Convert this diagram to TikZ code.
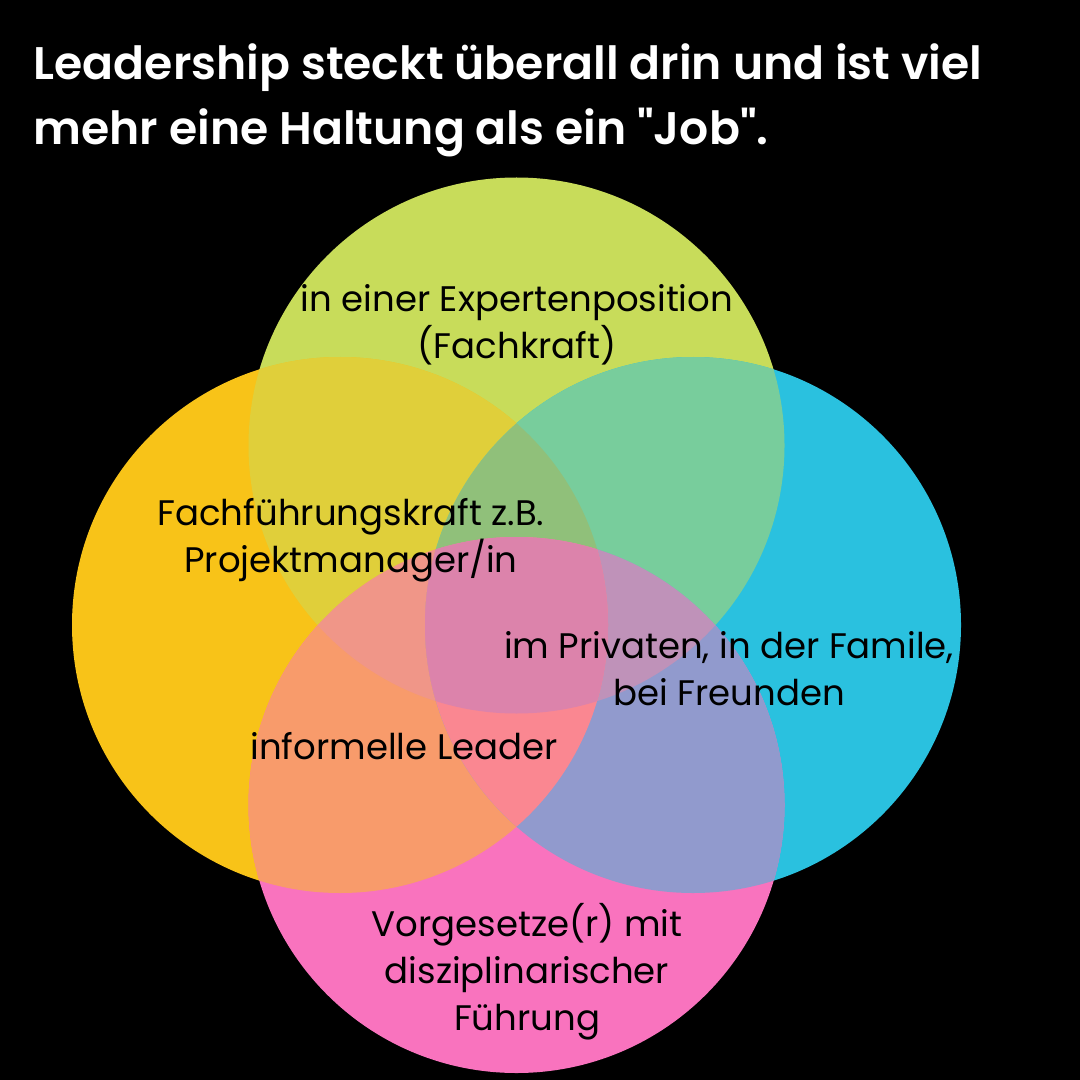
\documentclass[tikz,border=0pt]{standalone}
\usepackage{fontspec}
\setmainfont{Poppins}
\newfontfamily\ttlfont{Poppins SemiBold}
\definecolor{cT}{RGB}{200,220,90}
\definecolor{cL}{RGB}{248,195,24}
\definecolor{cR}{RGB}{42,193,223}
\definecolor{cB}{RGB}{249,115,190}
\definecolor{cTL}{RGB}{224,207,58}
\definecolor{cTR}{RGB}{120,205,156}
\definecolor{cLB}{RGB}{248,155,107}
\definecolor{cRB}{RGB}{145,154,205}
\definecolor{cTLB}{RGB}{240,150,136}
\definecolor{cTLR}{RGB}{144,192,122}
\definecolor{cTRB}{RGB}{191,146,185}
\definecolor{cLRB}{RGB}{250,135,145}
\definecolor{cTLRB}{RGB}{220,131,171}
\def\circr{2.68cm}
\begin{document}
\begin{tikzpicture}[y=-1cm,
    lbl/.style={font=\fontsize{10.1}{13.4}\selectfont,align=center,inner sep=0pt,text=black},
    ttl/.style={font=\fontsize{13}{18.5}\selectfont\ttlfont,align=left,inner sep=0pt,text=white,anchor=west}]
  \fill[black] (0,0) rectangle (10.8,10.8);
  \useasboundingbox (0,0) rectangle (10.8,10.8);
  \coordinate (ctop) at (5.165,4.455);
  \coordinate (cleft) at (3.40,6.25);
  \coordinate (cright) at (6.93,6.25);
  \coordinate (cbot) at (5.165,8.05);
  \fill[cT] (ctop) circle[radius=\circr];
  \fill[cL] (cleft) circle[radius=\circr];
  \fill[cR] (cright) circle[radius=\circr];
  \fill[cB] (cbot) circle[radius=\circr];
  \begin{scope}
    \clip (ctop) circle[radius=\circr];
    \fill[cTL] (cleft) circle[radius=\circr];
    \fill[cTR] (cright) circle[radius=\circr];
  \end{scope}
  \begin{scope}
    \clip (cbot) circle[radius=\circr];
    \fill[cLB] (cleft) circle[radius=\circr];
    \fill[cRB] (cright) circle[radius=\circr];
  \end{scope}
  \begin{scope}
    \clip (ctop) circle[radius=\circr]; \clip (cleft) circle[radius=\circr];
    \fill[cTLB] (cbot) circle[radius=\circr];
    \fill[cTLR] (cright) circle[radius=\circr];
  \end{scope}
  \begin{scope}
    \clip (cright) circle[radius=\circr]; \clip (cbot) circle[radius=\circr];
    \fill[cTRB] (ctop) circle[radius=\circr];
    \fill[cLRB] (cleft) circle[radius=\circr];
  \end{scope}
  \begin{scope}
    \clip (ctop) circle[radius=\circr]; \clip (cleft) circle[radius=\circr];
    \clip (cright) circle[radius=\circr];
    \fill[cTLRB] (cbot) circle[radius=\circr];
  \end{scope}
  \node[ttl] (title) at (0.33,1.0) {Leadership steckt überall drin und ist viel\\mehr eine Haltung als ein \textquotedbl Job\textquotedbl.};
  \node[lbl] (expert) at (5.17,3.25) {in einer Expertenposition\\(Fachkraft)};
  \node[lbl] (fach) at (3.51,5.40) {Fachführungskraft z.B.\\Projektmanager/in};
  \node[lbl] (privat) at (7.29,6.69) {im Privaten, in der Famile,\\bei Freunden};
  \node[lbl] (informell) at (4.04,7.46) {informelle Leader};
  \node[lbl] (vorg) at (5.27,9.72) {Vorgesetze(r) mit\\disziplinarischer\\Führung};
\end{tikzpicture}
\end{document}
